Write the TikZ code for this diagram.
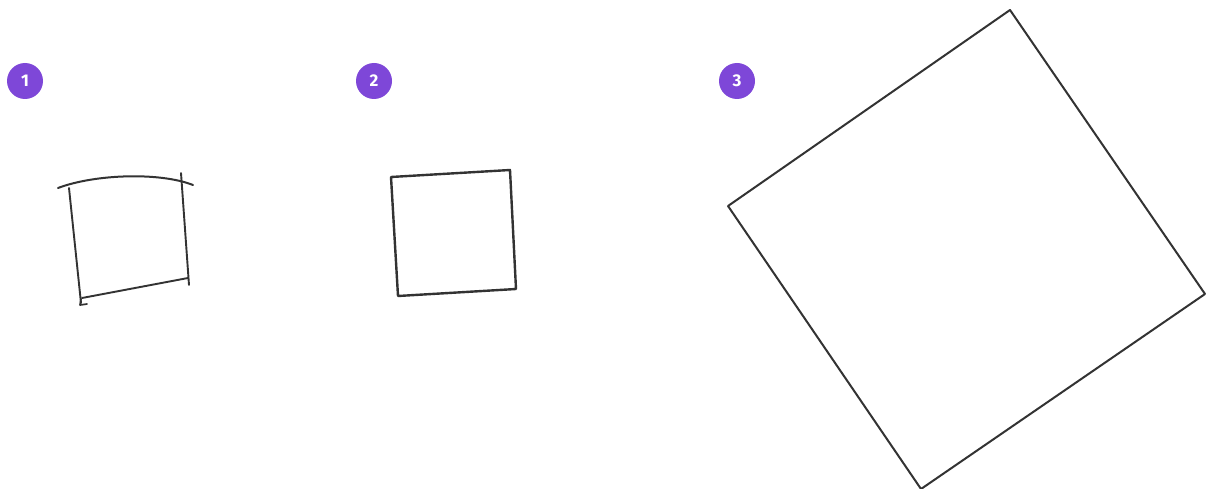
\documentclass[tikz,border=0pt]{standalone}
\usepackage{fontspec}
\setsansfont{Fira Sans}
\usepackage{xcolor}
\usepackage{tikz}
\definecolor{badge}{HTML}{7E47D8}
\definecolor{ink}{HTML}{333333}
\tikzset{step badge/.style={circle, fill=badge, minimum size=36pt, inner sep=0pt,
    text=white, font=\sffamily\bfseries\fontsize{17}{17}\selectfont}}

\begin{document}
\begin{tikzpicture}[x=1pt, y=-1pt, line join=round, line cap=round]
  \useasboundingbox (0,0) rectangle (1206,489);
  \node[step badge] (one) at (25,81) {1};
  \node[step badge] (two) at (374,81) {2};
  \node[step badge] (three) at (737,81) {3};
  % rough sketch
  \draw[ink, line width=2pt] (58,188) .. controls (95,174) and (160,172) .. (193,185);
  \draw[ink, line width=1.9pt] (69,188) -- (81,303);
  \draw[ink, line width=1.9pt] (181,173) -- (189,285);
  \draw[ink, line width=1.9pt] (82,298) -- (188,278);
  \draw[ink, line width=1.7pt] (81,299) -- (80,305) -- (87,304);
  % clean square
  \draw[ink, line width=2.4pt] (391,177) -- (510,170) -- (516,289) -- (398,296) -- cycle;
  % scaled and rotated
  \draw[ink, line width=2pt] (728,206) -- (1010,10) -- (1205,294) -- (921,489) -- cycle;
\end{tikzpicture}
\end{document}
